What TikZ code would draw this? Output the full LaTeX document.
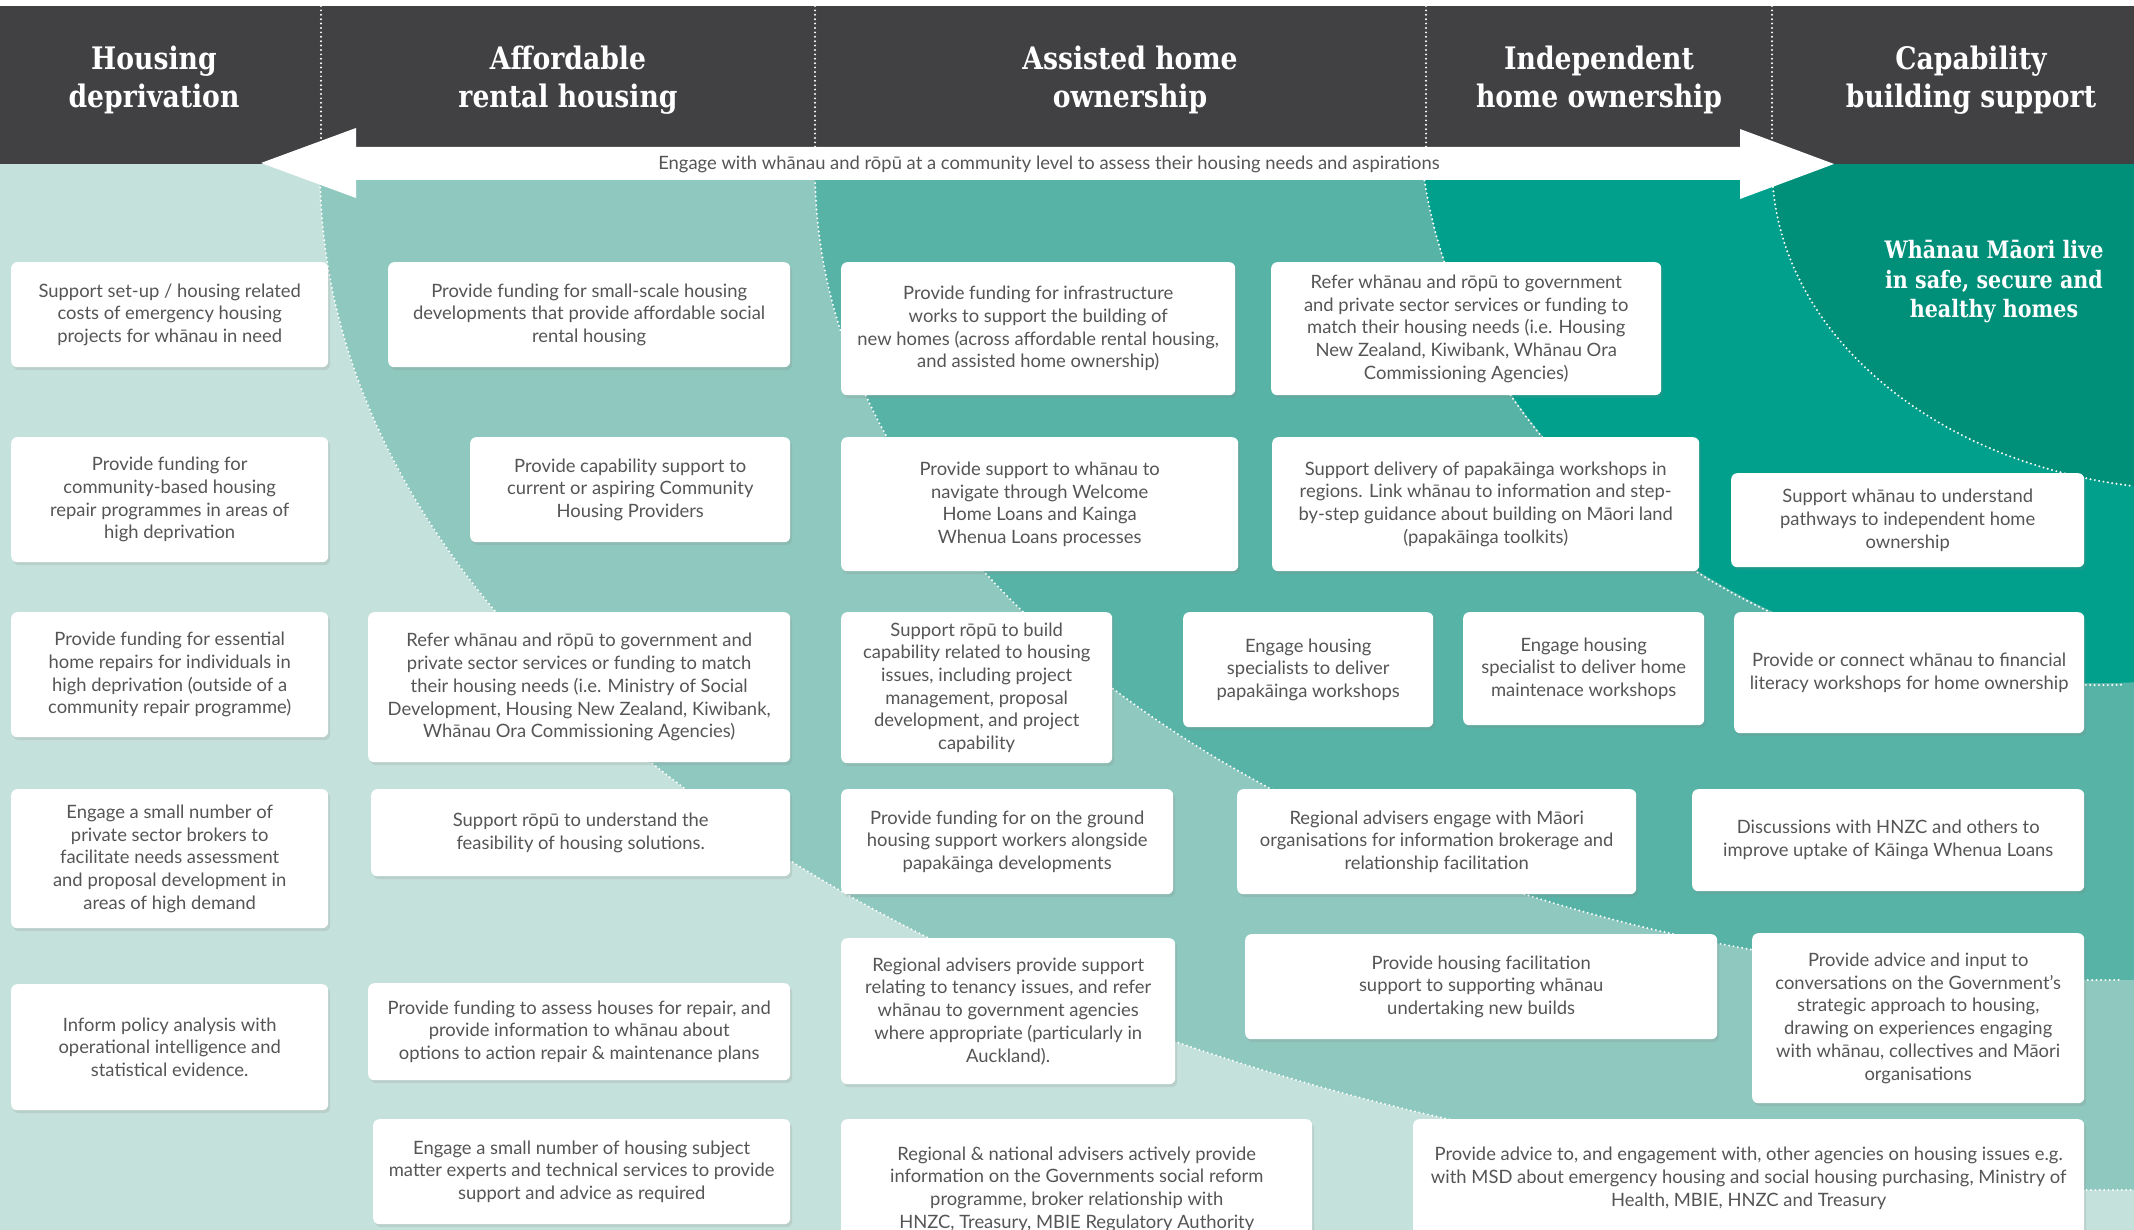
\documentclass[tikz,border=0pt]{standalone}
\usepackage{fontspec}
\setmainfont{Lato}
\newfontfamily\headfont{DejaVu Serif}[FakeStretch=0.86]
\usetikzlibrary{shadows,decorations.markings}
\definecolor{headgray}{HTML}{414042}
\definecolor{bandA}{HTML}{C5E1DB}
\definecolor{bandB}{HTML}{8FC8BF}
\definecolor{bandC}{HTML}{58B3A7}
\definecolor{bandD}{HTML}{00A08D}
\definecolor{bandE}{HTML}{00907A}
\definecolor{textgray}{HTML}{555555}

\begin{document}
\begin{tikzpicture}[x=1pt,y=-1pt,
  card/.style 2 args={fill=white,rounded corners=6pt,anchor=north west,align=center,text=textgray,inner sep=4pt,minimum width=#1pt,minimum height=#2pt,font=\fontsize{18.4}{22.7}\selectfont,drop shadow={shadow xshift=2pt,shadow yshift=-3pt,opacity=.18}},
  head/.style={text=white,align=center,font=\headfont\bfseries\fontsize{31}{38}\selectfont},
  dotline/.style={white,line width=2.2pt,line cap=round,dash pattern=on 0pt off 4.4pt}]
  \useasboundingbox (0,0) rectangle (2134,1230);
  \fill [white] (0,0) rectangle (2134,1230);

  \begin{scope}
    \clip (0,163) rectangle (2134,1230);
    \fill [bandA] (0,163) rectangle (2134,1230);
    \fill [bandB] (2100,170) ellipse [x radius=1780pt,y radius=1020pt];
    \fill [bandC] (2100,170) ellipse [x radius=1285pt,y radius=810pt];
    \fill [bandD] (2100,100) ellipse [x radius=682pt,y radius=583pt];
    \fill [bandE] (2200,165) ellipse [x radius=428pt,y radius=325pt];
  \end{scope}

  \fill [headgray] (0,6) rectangle (2134,164);
  \foreach \xsep in {321,815,1426,1772}
    \draw [dotline] (\xsep,6) -- (\xsep,164);

  \draw [dotline] (320,170) arc [start angle=180,end angle=271,x radius=1780pt,y radius=1020pt];
  \draw [dotline] (815,170) arc [start angle=180,end angle=271,x radius=1285pt,y radius=810pt];
  \draw [dotline] (1422,163) arc [start angle=186,end angle=272,x radius=682pt,y radius=583pt];
  \draw [dotline] (1772,165) arc [start angle=180,end angle=261,x radius=428pt,y radius=325pt];

  \fill [white] (261,163) -- (356,128) -- (356,147) -- (1740,147) -- (1740,129) -- (1834,164) -- (1740,199) -- (1740,180) -- (356,180) -- (356,198) -- cycle;
  \node [text=textgray,font=\fontsize{18.4}{20}\selectfont] (engage) at (1049,164) {Engage with whānau and rōpū at a community level to assess their housing needs and aspirations};

  \node [head] (hdep) at (154,80) {Housing\\deprivation};
  \node [head] (hrent) at (568,80) {Affordable\\rental housing};
  \node [head] (hassist) at (1130,80) {Assisted home\\ownership};
  \node [head] (hindep) at (1599,80) {Independent\\home ownership};
  \node [head] (hcap) at (1971,80) {Capability\\building support};
  \node [text=white,align=center,font=\headfont\bfseries\fontsize{24}{29.5}\selectfont] (goal) at (1994,282) {Whānau Māori live\\in safe, secure and\\healthy homes};

  \node [card={317}{105}] (dep1) at (11,262) {Support set-up / housing related\\costs of emergency housing\\projects for whānau in need};
  \node [card={317}{125}] (dep2) at (11,437) {Provide funding for\\community-based housing\\repair programmes in areas of\\high deprivation};
  \node [card={317}{125}] (dep3) at (11,612) {Provide funding for essential\\home repairs for individuals in\\high deprivation (outside of a\\community repair programme)};
  \node [card={317}{139}] (dep4) at (11,789) {Engage a small number of\\private sector brokers to\\facilitate needs assessment\\and proposal development in\\areas of high demand};
  \node [card={317}{126}] (dep5) at (11,984) {Inform policy analysis with\\operational intelligence and\\statistical evidence.};

  \node [card={402}{105}] (rent1) at (388,262) {Provide funding for small-scale housing\\developments that provide affordable social\\rental housing};
  \node [card={320}{105}] (rent2) at (470,437) {Provide capability support to\\current or aspiring Community\\Housing Providers};
  \node [card={422}{150}] (rent3) at (368,612) {Refer whānau and rōpū to government and\\private sector services or funding to match\\their housing needs (i.e. Ministry of Social\\Development, Housing New Zealand, Kiwibank,\\Whānau Ora Commissioning Agencies)};
  \node [card={419}{87}] (rent4) at (371,789) {Support rōpū to understand the\\feasibility of housing solutions.};
  \node [card={422}{97}] (rent5) at (368,983) {Provide funding to assess houses for repair, and\\provide information to whānau about\\options to action repair \& maintenance plans};
  \node [card={417}{105}] (rent6) at (373,1119) {Engage a small number of housing subject\\matter experts and technical services to provide\\support and advice as required};

  \node [card={394}{133}] (assist1) at (841,262) {Provide funding for infrastructure\\works to support the building of\\new homes (across affordable rental housing,\\and assisted home ownership)};
  \node [card={397}{134}] (assist2) at (841,437) {Provide support to whānau to\\navigate through Welcome\\Home Loans and Kainga\\Whenua Loans processes};
  \node [card={271}{151}] (assist3) at (841,612) {Support rōpū to build\\capability related to housing\\issues, including project\\management, proposal\\development, and project\\capability};
  \node [card={332}{105}] (assist4) at (841,789) {Provide funding for on the ground\\housing support workers alongside\\papakāinga developments};
  \node [card={334}{146}] (assist5) at (841,938) {Regional advisers provide support\\relating to tenancy issues, and refer\\whānau to government agencies\\where appropriate (particularly in\\Auckland).};
  \node [card={471}{140}] (assist6) at (841,1119) {Regional \& national advisers actively provide\\information on the Governments social reform\\programme, broker relationship with\\HNZC, Treasury, MBIE Regulatory Authority};

  \node [card={390}{133}] (indep1) at (1271,262) {Refer whānau and rōpū to government\\and private sector services or funding to\\match their housing needs (i.e. Housing\\New Zealand, Kiwibank, Whānau Ora\\Commissioning Agencies)};
  \node [card={427}{134}] (indep2) at (1272,437) {Support delivery of papakāinga workshops in\\regions. Link whānau to information and step-\\by-step guidance about building on Māori land\\(papakāinga toolkits)};
  \node [card={250}{115}] (indep3) at (1183,612) {Engage housing\\specialists to deliver\\papakāinga workshops};
  \node [card={241}{113}] (indep4) at (1463,612) {Engage housing\\specialist to deliver home\\maintenace workshops};
  \node [card={399}{105}] (indep5) at (1237,789) {Regional advisers engage with Māori\\organisations for information brokerage and\\relationship facilitation};
  \node [card={472}{105}] (indep6) at (1245,934) {Provide housing facilitation\\support to supporting whānau\\undertaking new builds};
  \node [card={671}{118}] (indep7) at (1413,1119) {Provide advice to, and engagement with, other agencies on housing issues e.g.\\with MSD about emergency housing and social housing purchasing, Ministry of\\Health, MBIE, HNZC and Treasury};

  \node [card={353}{94}] (cap1) at (1731,473) {Support whānau to understand\\pathways to independent home\\ownership};
  \node [card={350}{121}] (cap2) at (1734,612) {Provide or connect whānau to financial\\literacy workshops for home ownership};
  \node [card={392}{102}] (cap3) at (1692,789) {Discussions with HNZC and others to\\improve uptake of Kāinga Whenua Loans};
  \node [card={332}{170}] (cap4) at (1752,933) {Provide advice and input to\\conversations on the Government’s\\strategic approach to housing,\\drawing on experiences engaging\\with whānau, collectives and Māori\\organisations};
\end{tikzpicture}
\end{document}
